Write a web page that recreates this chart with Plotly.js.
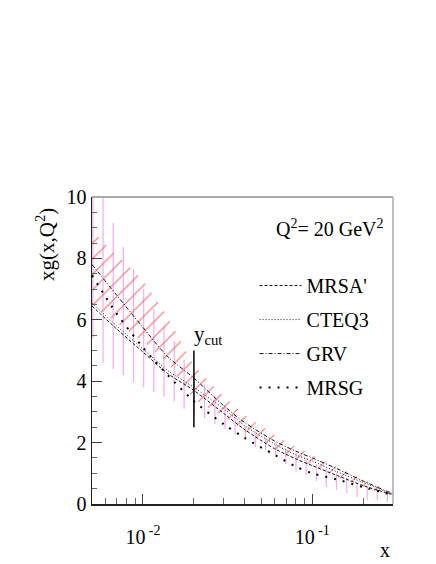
<!DOCTYPE html>
<html>
<head>
<meta charset="utf-8">
<script src="https://cdn.plot.ly/plotly-3.0.1.min.js"></script>
<style>body{margin:0;background:#fff}#plot{width:436px;height:564px}</style>
</head>
<body>
<div id="plot"></div>
<script>
// x grid for the pdf curves
var xGrid = [0.005, 0.007, 0.01, 0.014, 0.02, 0.03, 0.04, 0.06, 0.08, 0.1, 0.14, 0.2, 0.3];
var mrsa  = [6.45, 5.70, 4.95, 4.25, 3.70, 2.95, 2.42, 1.80, 1.47, 1.25, 0.93, 0.60, 0.30];
var cteq  = [6.55, 5.80, 5.05, 4.35, 3.80, 3.10, 2.55, 1.95, 1.60, 1.40, 1.05, 0.70, 0.32];
var grv   = [7.80, 6.80, 5.75, 4.80, 4.10, 3.20, 2.65, 2.05, 1.72, 1.50, 1.15, 0.75, 0.33];
var mrsg  = [7.45, 6.20, 5.10, 4.20, 3.35, 2.60, 2.15, 1.60, 1.22, 1.00, 0.80, 0.55, 0.30];

// hatched error band
var bandUp = [8.9, 8.1, 7.3, 6.1, 4.5, 3.5, 2.9, 2.25, 1.85, 1.6, 1.2, 0.8, 0.38];
var bandLo = [6.5, 5.9, 5.3, 4.6, 3.4, 2.85, 2.35, 1.8, 1.45, 1.25, 0.9, 0.55, 0.22];

// vertical error bars
var barX = [0.00506, 0.00581, 0.00667, 0.00766, 0.00879, 0.0101, 0.0116, 0.0133, 0.0153, 0.0175,
            0.0201, 0.0231, 0.0266, 0.0305, 0.035, 0.0402, 0.0461, 0.053, 0.0608, 0.0698,
            0.0802, 0.092, 0.106, 0.121, 0.139, 0.16, 0.184, 0.211, 0.242, 0.278];
var barHi = [10.5, 10.5, 9.15, 8.37, 7.65, 7.0, 6.35, 5.8, 5.3, 4.7,
             4.25, 3.9, 3.5, 3.2, 2.9, 2.55, 2.35, 2.15, 1.99, 1.82,
             1.66, 1.5, 1.3, 1.15, 1.02, 0.85, 0.68, 0.58, 0.5, 0.38];
var barLo = [5.4, 4.6, 4.4, 4.2, 3.97, 3.8, 3.65, 3.5, 3.35, 3.1,
             2.95, 2.8, 2.6, 2.45, 2.25, 2.08, 1.86, 1.76, 1.6, 1.3,
             1.07, 0.94, 0.75, 0.55, 0.46, 0.36, 0.23, 0.14, 0.12, 0.07];

var ycutX = 0.02;
var ycutY = [2.5, 5.0];

var font = 'Liberation Serif, Times New Roman, serif';

var bx = [], by = [];
for (var i = 0; i < barX.length; i++) {
  bx.push(barX[i], barX[i], null);
  by.push(barLo[i], barHi[i], null);
}

var bars = {
  x: bx, y: by, mode: 'lines', showlegend: false, hoverinfo: 'skip',
  line: {color: '#f4aaf2', width: 1.2}
};
var lower = {
  x: xGrid, y: bandLo, mode: 'lines', showlegend: false,
  line: {width: 0, color: 'rgba(0,0,0,0)'}
};
var upper = {
  x: xGrid, y: bandUp, mode: 'lines', showlegend: false,
  line: {width: 0, color: 'rgba(0,0,0,0)'},
  fill: 'tonexty', fillcolor: 'rgba(0,0,0,0)',
  fillpattern: {shape: '/', fgcolor: '#ff6a6a', bgcolor: 'rgba(0,0,0,0)', size: 11, solidity: 0.1}
};

function curve(y, name, dash, color, width) {
  return {
    x: xGrid, y: y, name: name, mode: 'lines', legendgroup: name,
    line: {color: color, width: width, dash: dash, shape: 'spline', smoothing: 0.8}
  };
}

var t1 = curve(mrsa, "MRSA'", '3px,2px', '#111', 1);
var t2 = curve(cteq, 'CTEQ3', '1px,2px', '#222', 1);
var t3 = curve(grv, 'GRV', '4px,2px,1px,2px', '#111', 1);
var t4 = curve(mrsg, 'MRSG', '2px,7px', '#000', 2);

var ycut = {
  x: [ycutX, ycutX], y: ycutY, mode: 'lines', showlegend: false,
  line: {color: '#000', width: 1.5}
};

var data = [bars, lower, upper, t1, t2, t3, t4, ycut];

var layout = {
  width: 436, height: 564,
  margin: {l: 92, r: 43, t: 197, b: 60},
  paper_bgcolor: '#fff', plot_bgcolor: '#fff',
  font: {family: font, size: 19, color: '#000'},
  showlegend: true,
  legend: {
    x: 0.54, xanchor: 'left', y: 0.775, yanchor: 'top',
    bgcolor: 'rgba(0,0,0,0)', borderwidth: 0,
    itemwidth: 42, traceorder: 'grouped', tracegroupgap: 5,
    font: {family: font, size: 20}
  },
  xaxis: {
    type: 'log', range: [Math.log10(0.005), Math.log10(0.3)],
    showgrid: false, zeroline: false,
    showline: true, linecolor: '#222', linewidth: 1.5,
    ticks: 'inside', ticklen: 10, tickcolor: '#444',
    tickvals: [0.01, 0.1], ticktext: ['10<sup> -2</sup>', '10<sup> -1</sup>'],
    ticklabelstandoff: 14, tickfont: {size: 20},
    minor: {
      ticks: 'inside', ticklen: 6, tickcolor: '#666',
      tickvals: [0.006, 0.007, 0.008, 0.009, 0.02, 0.03, 0.04, 0.05, 0.06, 0.07, 0.08, 0.09, 0.2, 0.3]
    }
  },
  yaxis: {
    range: [0, 10], dtick: 2,
    showgrid: false, zeroline: false,
    showline: true, linecolor: '#222', linewidth: 1.5,
    ticks: 'inside', ticklen: 10, tickcolor: '#444',
    tickfont: {size: 20},
    minor: {ticks: 'inside', ticklen: 5, dtick: 0.5, tickcolor: '#666'}
  },
  shapes: [
    {type: 'line', xref: 'paper', yref: 'paper', x0: 0, x1: 1, y0: 1, y1: 1, line: {color: '#aaa', width: 2}},
    {type: 'line', xref: 'paper', yref: 'paper', x0: 1, x1: 1, y0: 0, y1: 1, line: {color: '#aaa', width: 1.5}}
  ],
  annotations: [
    {text: 'xg(x,Q<sup>2</sup>)', xref: 'paper', yref: 'paper', x: -0.155, y: 0.845,
     textangle: -90, showarrow: false, xanchor: 'center', yanchor: 'middle', font: {size: 21}},
    {text: 'x', xref: 'paper', yref: 'paper', x: 0.973, y: -0.15,
     showarrow: false, xanchor: 'center', yanchor: 'middle', font: {size: 20}},
    {text: 'Q<sup>2</sup>= 20 GeV<sup>2</sup>', xref: 'paper', yref: 'paper', x: 0.79, y: 0.9,
     showarrow: false, xanchor: 'center', yanchor: 'middle', font: {size: 20}},
    {text: 'y<sub>cut</sub>', xref: 'x', yref: 'y', x: Math.log10(ycutX), y: 5.5,
     showarrow: false, xanchor: 'left', yanchor: 'middle', xshift: -2, font: {size: 21}}
  ]
};

Plotly.newPlot('plot', data, layout, {displayModeBar: false, staticPlot: true});
</script>
</body>
</html>
